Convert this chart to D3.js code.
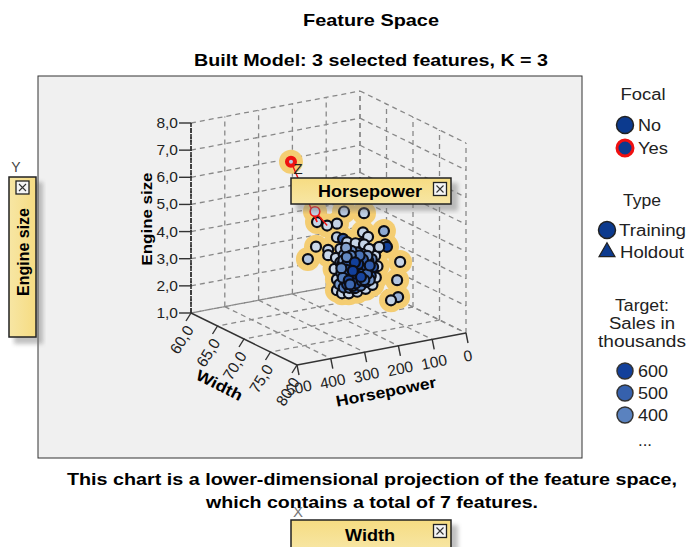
<!DOCTYPE html>
<html>
<head>
<meta charset="utf-8">
<script src="https://cdn.jsdelivr.net/npm/d3@7"></script>
<style>
  html, body { margin: 0; padding: 0; background: #fff; }
  svg { display: block; }
  text { font-family: "Liberation Sans", Arial, sans-serif; fill: #222; }
  .bold { font-weight: bold; fill: #000; }
</style>
</head>
<body>
<div id="chart"></div>
<script>
// Axis ticks
const sizeTicks = [1, 2, 3, 4, 5, 6, 7, 8];
const widthTicks = [60, 65, 70, 75, 80];
const hpTicks = [500, 400, 300, 200, 100, 0];

// [horsepower, width, engine size, sales]
const focalCars = [
  [361, 70, 7.2, 90],
  [290, 70, 5.2, 60]
];
const outlierCars = [
  [284, 70, 4.8, 40], [254, 70, 4.6, 30], [225, 70, 4.6, 50], [204, 70, 5.0, 90],
  [145, 70, 4.8, 70], [148, 70, 4.1, 45], [133, 70, 3.9, 35], [86, 70, 4.0, 230],
  [82, 70, 3.5, 120], [77, 70, 3.4, 600], [287, 70, 3.9, 25], [311, 70, 3.5, 110],
  [251, 70, 3.7, 60], [251, 70, 3.5, 30], [225, 70, 4.1, 70], [207, 70, 4.0, 520],
  [157, 70, 3.7, 55], [106, 70, 3.4, 40], [38, 70, 2.75, 40], [47, 70, 2.1, 110],
  [44, 70, 1.47, 190], [65, 70, 1.4, 50]
];
const clusterCars = [
  [225, 70, 2.15, 30], [210, 70, 2.0, 45], [190, 70, 1.95, 40], [165, 70, 1.95, 60],
  [140, 70, 2.0, 35], [120, 70, 2.1, 50], [110, 70, 2.35, 25], [105, 70, 2.75, 40],
  [112, 70, 3.15, 30], [100, 70, 3.45, 60], [225, 70, 2.55, 40], [232, 70, 2.95, 25],
  [228, 70, 3.35, 50], [215, 70, 3.65, 70], [195, 70, 3.85, 55], [170, 70, 3.75, 35],
  [145, 70, 3.65, 45], [130, 70, 3.45, 30],
  [218, 70, 2.35, 310], [205, 70, 2.2, 420], [188, 70, 2.15, 360], [172, 70, 2.1, 510],
  [155, 70, 2.15, 400], [138, 70, 2.25, 550], [125, 70, 2.45, 480], [118, 70, 2.75, 520],
  [122, 70, 3.05, 360], [212, 70, 2.75, 290], [198, 70, 2.5, 450], [180, 70, 2.4, 500],
  [163, 70, 2.35, 560], [147, 70, 2.45, 440], [134, 70, 2.7, 600], [132, 70, 3.0, 390],
  [215, 70, 3.15, 250], [202, 70, 2.9, 430], [186, 70, 2.75, 580], [170, 70, 2.65, 520],
  [153, 70, 2.75, 460], [143, 70, 3.0, 490], [150, 70, 3.3, 340], [205, 70, 3.4, 310],
  [190, 70, 3.2, 470], [176, 70, 3.0, 600], [160, 70, 3.1, 540], [165, 70, 3.4, 380],
  [182, 70, 3.5, 350], [198, 70, 3.65, 260], [210, 70, 3.05, 360], [195, 70, 2.3, 530],
  [178, 70, 2.2, 480], [160, 70, 2.55, 410], [142, 70, 2.7, 510], [128, 70, 2.3, 330],
  [174, 70, 3.25, 440], [188, 70, 2.95, 400], [156, 70, 2.9, 490], [170, 70, 2.85, 570],
  [180, 70, 2.6, 460], [200, 70, 2.65, 370], [206, 70, 3.2, 280], [135, 70, 3.2, 320],
  [192, 70, 2.7, 540], [184, 70, 2.87, 590], [175, 70, 2.5, 560], [166, 70, 2.77, 600],
  [158, 70, 2.65, 530], [150, 70, 2.57, 480], [140, 70, 2.87, 560], [148, 70, 3.1, 510],
  [162, 70, 2.97, 580], [168, 70, 3.17, 470], [179, 70, 3.13, 540], [194, 70, 3.07, 490],
  [197, 70, 2.83, 520], [208, 70, 2.57, 410], [190, 70, 2.43, 570], [170, 70, 2.27, 540],
  [152, 70, 2.33, 500], [136, 70, 2.53, 470], [128, 70, 2.83, 520], [158, 70, 3.27, 450],
  [184, 70, 3.33, 400], [196, 70, 3.3, 370], [212, 70, 2.93, 380], [172, 70, 3.05, 600],
  [186, 70, 2.27, 480], [144, 70, 2.33, 450], [154, 70, 2.47, 590], [178, 70, 2.75, 600]
];

// Neighbour lines from the focal records: [from, to], each [hp, width, size]
const focalLinks = [
  [[361, 70, 7.2], [284, 70, 4.8]],
  [[290, 70, 5.2], [254, 70, 4.6]],
  [[284, 70, 4.8], [296, 70, 5.3]]
];

const legendFocal = ["No", "Yes"];
const legendType = ["Training", "Holdout"];
const legendSales = [600, 500, 400];

const width = 689;
const height = 547;

const svg = d3.select("#chart").append("svg")
  .attr("width", width)
  .attr("height", height);

const defs = svg.append("defs");
const grad = defs.append("linearGradient").attr("id", "boxFill").attr("x1", 0).attr("y1", 0).attr("x2", 0).attr("y2", 1);
grad.append("stop").attr("offset", "0%").attr("stop-color", "#f6dc82");
grad.append("stop").attr("offset", "100%").attr("stop-color", "#f7e6a4");
const gradV = defs.append("linearGradient").attr("id", "boxFillV").attr("x1", 0).attr("y1", 0).attr("x2", 1).attr("y2", 0);
gradV.append("stop").attr("offset", "0%").attr("stop-color", "#f7e6a4");
gradV.append("stop").attr("offset", "100%").attr("stop-color", "#f6dc82");
defs.append("filter").attr("id", "soft").append("feGaussianBlur").attr("stdDeviation", 2);

// text stretched to the width measured in the reference
function fitText(x, y, label, size, len, cls) {
  return svg.append("text").attr("class", cls || null).attr("x", x).attr("y", y)
    .attr("text-anchor", "middle").attr("textLength", len).attr("lengthAdjust", "spacingAndGlyphs")
    .style("font-size", size + "px").text(label);
}

// Titles
fitText(371, 26, "Feature Space", 16.5, 136, "bold");
fitText(371, 66, "Built Model: 3 selected features, K = 3", 16.5, 354, "bold");

// Panel
svg.append("rect").attr("x", 38).attr("y", 76).attr("width", 544).attr("height", 382)
  .attr("fill", "#f0f0f0").attr("stroke", "#333");

// Oblique box: corner for width 80, hp 500, size 1 and one edge vector per axis
const origin = { x: 297, y: 365 };
const widthEdge = { x: -106, y: -52 };
const hpEdge = { x: 169, y: -32 };
const widthPos = d3.scaleLinear().domain([80, 60]).range([0, 1]);
const hpPos = d3.scaleLinear().domain([500, 0]).range([0, 1]);
const sizeY = d3.scaleLinear().domain([1, 8]).range([0, 190]);

function project(hp, w, size) {
  const a = widthPos(w), b = hpPos(hp);
  return {
    x: origin.x + a * widthEdge.x + b * hpEdge.x,
    y: origin.y + a * widthEdge.y + b * hpEdge.y - sizeY(size)
  };
}

function seg(g, p, q) {
  return g.append("line").attr("x1", p.x).attr("y1", p.y).attr("x2", q.x).attr("y2", q.y);
}

// Grid on floor and the two back walls
const grid = svg.append("g").attr("stroke", "#888").attr("stroke-width", 1.3).attr("stroke-dasharray", "5,4").attr("fill", "none");
sizeTicks.forEach(s => {
  seg(grid, project(500, 60, s), project(0, 60, s));
  seg(grid, project(0, 60, s), project(0, 80, s));
});
hpTicks.forEach(h => {
  seg(grid, project(h, 60, 1), project(h, 60, 8));
  if (h !== 500) seg(grid, project(h, 60, 1), project(h, 80, 1));
});
widthTicks.forEach(w => {
  seg(grid, project(0, w, 1), project(0, w, 8));
  if (w !== 80) seg(grid, project(0, w, 1), project(500, w, 1));
});

// Axes
const axes = svg.append("g").attr("stroke", "#333").attr("stroke-width", 1.4).attr("fill", "none");
seg(axes, project(500, 60, 1), project(500, 60, 8)).attr("stroke-dasharray", "5,1").attr("stroke", "#111");
seg(axes, project(500, 60, 1), project(500, 80, 1));
seg(axes, project(500, 80, 1), project(0, 80, 1));

const tickFont = "15.5px";
sizeTicks.forEach(s => {
  const p = project(500, 60, s);
  axes.append("line").attr("x1", p.x - 12).attr("y1", p.y).attr("x2", p.x).attr("y2", p.y);
  svg.append("text").attr("x", p.x - 13).attr("y", p.y + 5).attr("text-anchor", "end")
    .style("font-size", tickFont).text(d3.format(".1f")(s).replace(".", ","));
});
widthTicks.forEach(w => {
  const p = project(500, w, 1);
  axes.append("line").attr("x1", p.x).attr("y1", p.y).attr("x2", p.x - 5).attr("y2", p.y + 8);
  svg.append("text").attr("transform", `translate(${p.x - 6},${p.y + 11}) rotate(-58)`).attr("text-anchor", "end")
    .attr("dy", "0.7em").style("font-size", tickFont).text(d3.format(".1f")(w).replace(".", ","));
});
hpTicks.forEach(h => {
  const p = project(h, 80, 1);
  axes.append("line").attr("x1", p.x).attr("y1", p.y).attr("x2", p.x + 2).attr("y2", p.y + 10);
  svg.append("text").attr("transform", `translate(${p.x + 3},${p.y + 28}) rotate(-12)`).attr("text-anchor", "middle")
    .style("font-size", tickFont).text(h);
});

// Axis titles
svg.append("text").attr("class", "bold").attr("transform", "translate(152,219) rotate(-90)")
  .attr("text-anchor", "middle").attr("textLength", 93).attr("lengthAdjust", "spacingAndGlyphs").style("font-size", "15.5px").text("Engine size");
svg.append("text").attr("class", "bold").attr("transform", "translate(217,390) rotate(27)")
  .attr("text-anchor", "middle").attr("textLength", 50).attr("lengthAdjust", "spacingAndGlyphs").style("font-size", "15.5px").text("Width");
svg.append("text").attr("class", "bold").attr("transform", "translate(387,397) rotate(-11)")
  .attr("text-anchor", "middle").attr("textLength", 102).attr("lengthAdjust", "spacingAndGlyphs").style("font-size", "15.5px").text("Horsepower");

// Points
const salesColor = d3.scaleLinear().domain([0, 400, 600]).range(["#d3deec", "#5a82bf", "#12409b"]);
const allCars = [...focalCars, ...outlierCars, ...clusterCars];

svg.append("g").selectAll("circle").data(allCars).join("circle")
  .attr("cx", d => project(d[0], d[1], d[2]).x)
  .attr("cy", d => project(d[0], d[1], d[2]).y)
  .attr("r", 12)
  .attr("fill", "#f4cd72");

svg.append("g").selectAll("circle").data([...outlierCars, ...clusterCars]).join("circle")
  .attr("cx", d => project(d[0], d[1], d[2]).x)
  .attr("cy", d => project(d[0], d[1], d[2]).y)
  .attr("r", 5)
  .attr("fill", d => salesColor(d[3]))
  .attr("stroke", "#0c0d14")
  .attr("stroke-width", 2.2);

const linkG = svg.append("g").attr("stroke", "#f01010").attr("stroke-width", 1.4);
focalLinks.forEach(l => seg(linkG, project(...l[0]), project(...l[1])));

svg.append("g").selectAll("circle").data(focalCars).join("circle")
  .attr("cx", d => project(d[0], d[1], d[2]).x)
  .attr("cy", d => project(d[0], d[1], d[2]).y)
  .attr("r", (d, i) => i === 0 ? 4 : 4.8)
  .attr("fill", d => salesColor(d[3]))
  .attr("stroke", "#ee1111")
  .attr("stroke-width", (d, i) => i === 0 ? 4 : 1.6);

// Axis assignment boxes
function fieldBox(x, y, w, h, label, vertical, len) {
  svg.append("rect").attr("x", x + 5).attr("y", y + 5).attr("width", w + 2).attr("height", h + 2)
    .attr("fill", "#777").attr("opacity", 0.45).attr("filter", "url(#soft)");
  svg.append("rect").attr("x", x).attr("y", y).attr("width", w).attr("height", h)
    .attr("fill", vertical ? "url(#boxFillV)" : "url(#boxFill)").attr("stroke", "#222").attr("stroke-width", 1.5);
  const bx = vertical ? x + w / 2 - 6.5 : x + w - 17.5;
  const by = vertical ? y + 4 : y + 4.5;
  svg.append("rect").attr("x", bx).attr("y", by).attr("width", 13).attr("height", 13)
    .attr("fill", "#f4f4f4").attr("stroke", "#222").attr("stroke-width", 1.3);
  svg.append("path").attr("d", `M${bx + 3},${by + 3}L${bx + 10},${by + 10}M${bx + 10},${by + 3}L${bx + 3},${by + 10}`)
    .attr("stroke", "#333").attr("stroke-width", 1.1);
  const t = svg.append("text").attr("class", "bold").attr("text-anchor", "middle")
    .attr("textLength", len).attr("lengthAdjust", "spacingAndGlyphs").style("font-size", "16.5px");
  if (vertical) t.attr("transform", `translate(${x + w / 2 + 6},${y + 75}) rotate(-90)`);
  else t.attr("x", x + w / 2 - 1).attr("y", y + h / 2 + 6);
  t.text(label);
}

svg.append("text").attr("x", 16).attr("y", 172).attr("text-anchor", "middle").style("font-size", "14px").style("fill", "#444").text("Y");
fieldBox(9, 177, 27, 160, "Engine size", true, 88);
svg.append("text").attr("x", 298).attr("y", 174).attr("text-anchor", "middle").style("font-size", "15px").style("fill", "#222").text("Z");
fieldBox(291, 178, 160, 26, "Horsepower", false, 104);

// Footer
fitText(372, 485, "This chart is a lower-dimensional projection of the feature space,", 16.5, 610, "bold");
fitText(372, 508, "which contains a total of 7 features.", 16.5, 332, "bold");

svg.append("text").attr("x", 298).attr("y", 517).attr("text-anchor", "middle").style("font-size", "15px").style("fill", "#777").text("X");
fieldBox(291, 520, 160, 30, "Width", false, 50);

// Legend
function legendText(x, y, label, len, anchor) {
  svg.append("text").attr("x", x).attr("y", y).attr("text-anchor", anchor || "start")
    .attr("textLength", len).attr("lengthAdjust", "spacingAndGlyphs")
    .style("font-size", "16px").text(label);
}
function legendDot(x, y, r, fill, stroke, sw) {
  svg.append("circle").attr("cx", x).attr("cy", y).attr("r", r)
    .attr("fill", fill).attr("stroke", stroke).attr("stroke-width", sw);
}
legendText(643, 100, "Focal", 45, "middle");
legendDot(625, 125, 8.5, "#0c3a8e", "#222", 1.5);
legendText(638, 131, legendFocal[0], 23);
legendDot(625, 148, 8, "#0c3a8e", "#f01010", 3);
legendText(638, 154, legendFocal[1], 30);

legendText(642, 206, "Type", 38, "middle");
legendDot(607, 230, 8.5, "#0c3a8e", "#222", 1.5);
legendText(619, 236, legendType[0], 67);
svg.append("path").attr("d", d3.symbol(d3.symbolTriangle, 110)()).attr("transform", "translate(607,252)")
  .attr("fill", "#0c3a8e").attr("stroke", "#222").attr("stroke-width", 1.2);
legendText(620, 258, legendType[1], 64);

legendText(642, 311, "Target:", 54, "middle");
legendText(642, 329, "Sales in", 66, "middle");
legendText(642, 347, "thousands", 88, "middle");
const salesY = d3.scaleOrdinal().domain(legendSales).range([371, 393, 415]);
legendSales.forEach(v => {
  legendDot(625, salesY(v), 8, salesColor(v), "#333", 1.5);
  legendText(638, salesY(v) + 6, v, 30);
});
legendText(645, 446, "...", 14, "middle");
</script>
</body>
</html>
